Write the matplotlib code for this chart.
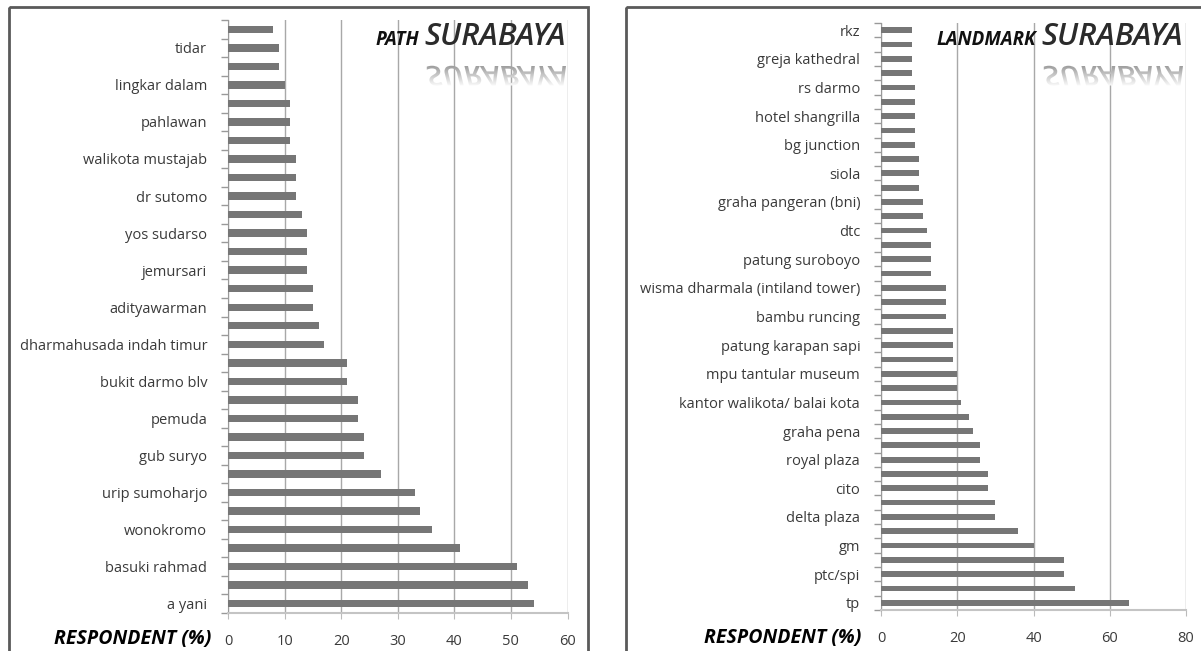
import numpy as np
import matplotlib
matplotlib.use("Agg")
import matplotlib.pyplot as plt
from matplotlib.patches import PathPatch, Rectangle
from matplotlib.textpath import TextPath
from matplotlib.font_manager import FontProperties
from matplotlib.transforms import Affine2D

# ---------------- data ----------------
# PATH panel (bottom -> top), 32 bars, labels on every other bar
path_values = [54, 53, 51, 41, 36, 34, 33, 27, 24, 24, 23, 23, 21, 21, 17, 16,
               15, 15, 14, 14, 14, 13, 12, 12, 12, 11, 11, 11, 10, 9, 9, 8]
path_labels = ["a yani", "basuki rahmad", "wonokromo", "urip sumoharjo", "gub suryo",
               "pemuda", "bukit darmo blv", "dharmahusada indah timur", "adityawarman",
               "jemursari", "yos sudarso", "dr sutomo", "walikota mustajab", "pahlawan",
               "lingkar dalam", "tidar"]
path_xticks = [0, 10, 20, 30, 40, 50, 60]

# LANDMARK panel (bottom -> top), 41 bars, labels on every other bar
land_values = [65, 51, 48, 48, 40, 36, 30, 30, 28, 28, 26, 26, 24, 23, 21, 20, 20,
               19, 19, 19, 17, 17, 17, 13, 13, 13, 12, 11, 11, 10, 10, 10, 9, 9, 9,
               9, 9, 8, 8, 8, 8]
land_labels = ["tp", "ptc/spi", "gm", "delta plaza", "cito", "royal plaza", "graha pena",
               "kantor walikota/ balai kota", "mpu tantular museum", "patung karapan sapi",
               "bambu runcing", "wisma dharmala (intiland tower)", "patung suroboyo", "dtc",
               "graha pangeran (bni)", "siola", "bg junction", "hotel shangrilla",
               "rs darmo", "greja kathedral", "rkz"]
land_xticks = [0, 20, 40, 60, 80]

W, H = 1201, 651
FONT = "Open Sans"
BAR = "#767676"
GRID = "#a8a8a8"
TXT = "#3a3a3a"

fig = plt.figure(figsize=(W / 100, H / 100), dpi=100)


def px_axes(x0, x1, y0, y1):
    return fig.add_axes([x0 / W, 1 - y1 / H, (x1 - x0) / W, (y1 - y0) / H])


def bar_panel(ax, values, labels, xticks):
    n = len(values)
    pos = np.arange(n)
    ax.barh(pos, values, height=0.4, color=BAR, zorder=3)
    ax.set_ylim(-0.5, n - 0.5)
    ax.set_xlim(xticks[0], xticks[-1])
    ax.set_xticks(xticks)
    ax.set_xticklabels([str(t) for t in xticks], fontsize=10.5, color=TXT, family=FONT)
    ax.set_yticks(pos[::2][:len(labels)])
    ax.set_yticklabels(labels, fontsize=10.5, color=TXT, family=FONT)
    ax.set_yticks(np.arange(n + 1) - 0.5, minor=True)
    ax.tick_params(axis="y", which="major", length=0, pad=15)
    ax.tick_params(axis="y", which="minor", length=5, color="#999999", width=1)
    ax.tick_params(axis="x", which="major", length=4, color="#bbbbbb", pad=11)
    ax.grid(axis="x", color=GRID, lw=1, zorder=0)
    for s in ("top", "right"):
        ax.spines[s].set_visible(False)
    ax.spines["left"].set_color("#999999")
    ax.spines["bottom"].set_color("#c4c4c4")
    ax.spines["bottom"].set_linewidth(1.5)
    ax.set_facecolor("none")


axL = px_axes(228, 567.5, 20, 613)
bar_panel(axL, path_values, path_labels, path_xticks)
axR = px_axes(881, 1186, 23, 610)
bar_panel(axR, land_values, land_labels, land_xticks)

# overlay in pixel coordinates (y downward)
ov = fig.add_axes([0, 0, 1, 1], zorder=10)
ov.set_xlim(0, W)
ov.set_ylim(H, 0)
ov.axis("off")
ov.patch.set_alpha(0)

# panel borders
for (x0, x1) in [(8.5, 588), (626, 1205)]:
    ov.add_patch(Rectangle((x0, 7), x1 - x0, 700, fill=False, ec="#5a5a5a", lw=2,
                           clip_on=False))

# axis titles
ov.text(211, 639, "RESPONDENT (%)", ha="right", va="center", fontsize=14,
        fontweight="bold", style="italic", family=FONT, color="black")
ov.text(861, 638, "RESPONDENT (%)", ha="right", va="center", fontsize=14,
        fontweight="bold", style="italic", family=FONT, color="black")

fp_big = FontProperties(family=FONT, style="italic", weight="semibold")
big_px = 31


def title(prefix, right_x, base_y, refl_top):
    ov.text(right_x, base_y, "SURABAYA", ha="right", va="baseline",
            fontsize=big_px * 0.72, family=FONT, style="italic",
            fontweight="semibold", color="#2b2b2b")
    tp = TextPath((0, 0), "SURABAYA", size=big_px, prop=fp_big)
    ext = tp.get_extents()
    wid = ext.x1 - ext.x0
    ov.text(right_x - wid - 8, base_y, prefix, ha="right", va="baseline",
            fontsize=13.5, family=FONT, style="italic", fontweight="bold",
            color="#111111")
    sy = 0.88
    tr = Affine2D().translate(-ext.x0, 0).scale(1, sy).translate(right_x - wid, refl_top)
    p = tr.transform_path(tp)
    patch = PathPatch(p, fc="none", ec="none", transform=ov.transData)
    ov.add_patch(patch)
    top = refl_top
    bot = refl_top + ext.y1 * sy
    grad = np.linspace(0.6, 1.0, 64).reshape(-1, 1)
    im = ov.imshow(grad, cmap="gray", vmin=0, vmax=1, aspect="auto",
                   extent=(right_x - wid - 2, right_x + 2, bot + 1, top - 1),
                   interpolation="bilinear", zorder=11)
    im.set_clip_path(patch)
    ov.set_xlim(0, W)
    ov.set_ylim(H, 0)


title("PATH", 566, 45, 66)
title("LANDMARK", 1183, 45, 66)

fig.savefig("out.png", dpi=100)
